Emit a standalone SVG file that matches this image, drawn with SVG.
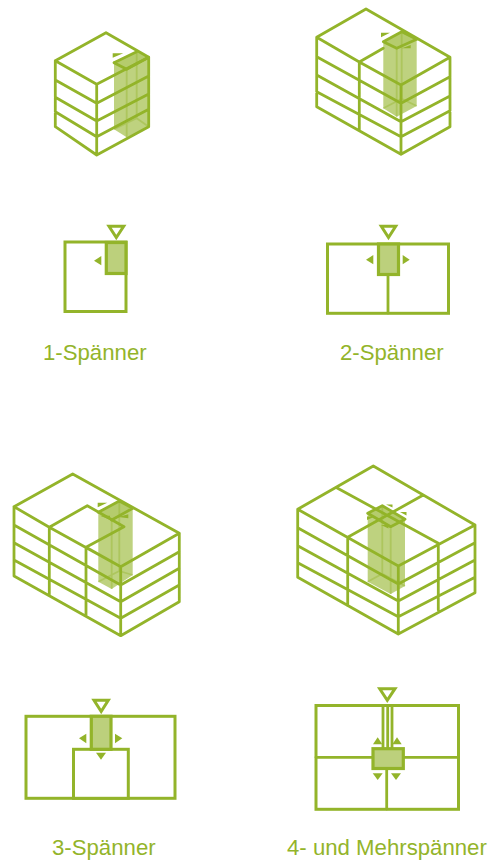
<svg xmlns="http://www.w3.org/2000/svg" width="490" height="861" viewBox="0 0 490 861">
<style>
.l{fill:none;stroke:#93b42a;stroke-width:2.8;stroke-linejoin:round;stroke-linecap:round}
.p{fill:#fff;stroke:#93b42a;stroke-width:3;stroke-linejoin:miter}
.c{fill:#bcd07c;stroke:#93b42a;stroke-width:3.2}
.e{fill:#fff;stroke:#93b42a;stroke-width:3;stroke-linejoin:miter}
.a{fill:#93b42a}
.f{fill:#93b42a;fill-opacity:.6}
.t{fill:#93b42a;fill-opacity:.2}
.i{fill:none;stroke:#93b42a;stroke-opacity:.4;stroke-width:1.8}
text{font-family:"Liberation Sans",Arial,sans-serif;font-size:22.2px;fill:#93b42a}
</style>
<rect width="490" height="861" fill="#fff"/>

<g id="iso-1">
<path class="l" d="M106 32.7L55.3 60.7L96.7 84.3L148.7 57.3L106 32.7ZM55.3 60.7V126.7L96.7 155L148.7 126.7V57.3M96.7 84.3V155M55.3 80L96.7 103.3L148.7 76M55.3 97.3L96.7 121L148.7 94M55.3 111.7L96.7 136.7L148.7 109.3"/>
<path class="f" d="M114 62.7L136.7 51.7L148.7 57.3V126.7L126.7 137.3L114 129.3Z"/>
<path class="t" d="M114 62.7L136.7 51.7L148.7 57.3L126.7 69.3Z"/>
<path class="i" d="M126.7 69.3V137.3M136.7 51.7V118.3L114 129.3M136.7 118.3L148.7 126.7"/>
<path class="l" d="M114 62.7L136.7 51.7M114 62.7L126.7 69.3L148.7 57.3"/>
<path class="a" d="M112.7 53.3H123.3L112.7 57.7Z"/>
</g>

<g id="iso-2">
<path class="l" d="M366 9L316.7 37.3L359.3 62L401 85L450 57.3L366 9ZM316.7 37.3V106.7L401 154.3L450 126.7V57.3M359.3 62V130M401 85V154.3M316.7 56.7L401 103.3L450 76.7M316.7 75L401 121.7L450 96M316.7 91.7L401 136.7L450 110.7M359.3 62L383.3 48.3"/>
<path class="f" d="M383.3 41.7L401.7 31.7L416.7 39.3V106L396.7 116.7L383.3 108.3Z"/>
<path class="t" d="M383.3 41.7L401.7 31.7L416.7 39.3L396.7 48.3Z"/>
<path class="i" d="M396.7 48.3V116.7M401.7 31.7V98.7L383.3 108.3M401.7 98.7L416.7 106"/>
<path class="l" d="M383.3 41.7L401.7 31.7L416.7 39.3L396.7 48.3Z"/>
<path class="a" d="M381 32.7H390L381 37.3Z"/>
<path class="a" d="M401.7 48.3L410.7 45V48.3Z"/>
</g>

<g id="iso-3">
<path class="l" d="M72.7 474L14 506.7L49.3 527.3L87.3 505.7L124 526.7L86 547.3L120.7 566.7L179.3 533.3L72.7 474ZM14 506.7V576L120.7 635.7L179.3 601.7V533.3M49.3 527.3V595.7M86 547.3V615M120.7 566.7V635.7M14 525L120.7 585L179.3 551.7M14 542.7L120.7 601.7L179.3 568.3M14 560L120.7 618.3L179.3 585M49.3 527.3L120.7 566.7"/>
<path class="f" d="M98.3 512.3L119.3 501L132.7 508.3V575L111.7 589L98.3 581.7Z"/>
<path class="t" d="M98.3 512.3L119.3 501L132.7 508.3L111.7 520Z"/>
<path class="i" d="M111.7 520V589M119.3 501V571L98.3 581.7M119.3 571L132.7 575"/>
<path class="l" d="M98.3 512.3L119.3 501L132.7 508.3L111.7 520"/>
<path class="a" d="M97.7 502.7H107.3L97.7 507.3Z"/>
<path class="a" d="M100 515.7H110L110 519.7Z"/>
<path class="a" d="M118.3 517L128.3 514.3V518.3Z"/>
</g>

<g id="iso-4">
<path class="l" d="M373.3 466L297.7 509.3L398.3 566L475 525L373.3 466ZM297.7 509.3V577.3L398.3 634L475 592.7V525M347.7 537.3V605.7M398.3 566V634M438.3 543.3V610M297.7 527.7L398.3 584L475 542.7M297.7 545.7L398.3 601L475 560M297.7 562.7L398.3 616.7L475 577.3M336.7 487.7L438.3 543.3M423.3 495L347.7 537.3"/>
<path class="f" d="M367.7 513.3L382.3 505.7L405 519.3V586L390.7 594L367.7 581.7Z"/>
<path class="t" d="M367.7 513.3L382.3 505.7L405 519.3L390.7 526.7Z"/>
<path class="i" d="M382.3 505.7V573.7L367.7 581.7M382.3 573.7L405 586M390.7 526.7V594"/>
<path class="l" d="M367.7 513.3L382.3 505.7L405 519.3L390.7 526.7Z"/>
<path class="a" d="M386 504.5H392.5V507.5Z"/>
<path class="a" d="M400 512H406.5V515.5Z"/>
<path class="a" d="M367 516.5H375L367 520Z"/>
<path class="a" d="M381 525H388.5V528.5Z"/>
</g>

<g id="plan-1">
<rect class="p" x="65" y="242" width="61" height="69.5"/>
<rect class="c" x="106.3" y="242.5" width="19.7" height="31"/>
<path class="e" d="M109 226.3H123.7L116.3 237.5Z"/>
<path class="a" d="M94 260.7L101.3 256V265.3Z"/>
</g>

<g id="plan-2">
<rect class="p" x="327.5" y="244" width="121" height="69.3"/>
<path class="l" d="M388 274V313"/>
<rect class="c" x="378.5" y="244" width="20" height="30.5"/>
<path class="e" d="M381.3 226.3H395.7L388.5 237.5Z"/>
<path class="a" d="M366 259.7L373.3 255V264.3Z"/>
<path class="a" d="M409.7 259.7L402.7 255V264.3Z"/>
</g>

<g id="plan-3">
<rect class="p" x="26" y="716.3" width="149" height="82"/>
<rect class="p" x="73.5" y="749.3" width="54.8" height="49"/>
<rect class="c" x="91.3" y="716.3" width="19.7" height="33"/>
<path class="e" d="M94 700.3H108.3L101.2 711.5Z"/>
<path class="a" d="M79 738.3L86.3 733.7V743.3Z"/>
<path class="a" d="M122.3 738.3L115 733.7V743.3Z"/>
<path class="a" d="M96 752.7H106L101 759.7Z"/>
</g>

<g id="plan-4">
<rect class="p" x="316" y="705.5" width="142.5" height="103.8"/>
<path class="l" d="M316 757.3H458.5M386.7 768V809M383 705.5V748M387.7 705.5V748M392 705.5V748"/>
<rect class="c" x="373" y="748.7" width="30.3" height="19.8"/>
<path class="e" d="M379.7 688.7H395L387.3 700.3Z"/>
<path class="a" d="M373 744.3H382.3L377.7 737.3Z"/>
<path class="a" d="M392.3 744.3H401.7L397 737.3Z"/>
<path class="a" d="M372.7 773.3H382.7L377.7 780Z"/>
<path class="a" d="M391 773.3H401L396 780Z"/>
</g>

<g id="labels">
<text x="43" y="360">1-Spänner</text>
<text x="340" y="360">2-Spänner</text>
<text x="52" y="855">3-Spänner</text>
<text x="287" y="855">4- und Mehrspänner</text>
</g>
</svg>
